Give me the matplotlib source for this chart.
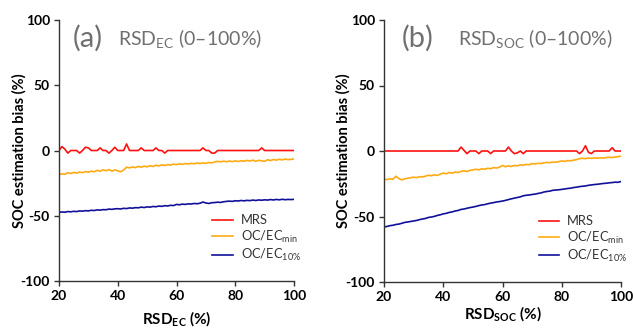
import numpy as np
import matplotlib
matplotlib.use('Agg')
import matplotlib.pyplot as plt

plt.rcParams['font.family'] = ['Lato', 'DejaVu Sans']
plt.rcParams['mathtext.fontset'] = 'custom'
plt.rcParams['mathtext.rm'] = 'Lato'
plt.rcParams['mathtext.bf'] = 'Lato:bold'
plt.rcParams['axes.unicode_minus'] = False

x = np.arange(20, 101)

# panel (a): RSD_EC
mrs_a = [0, 3, 1, -2, 0, 0, 0, -2, 0, 2.5,
         2, 0, 0, 0, 2, 0, 0, -2, 0, 2.5,
         0, 0, 0, 5, 0, 0, 0, 0, 2, 0,
         0, 0, 0, 2, 0, 0, -2, 0, 0, 0,
         0, 0, 0, 0, 0, 0, 0, 0, 0, 2,
         0, 0, -2, -2, 0, 0, 0, 0, 0, 0,
         0, 0, 0, 0, 0, 0, 0, 0, 0, 2,
         0, 0, 0, 0, 0, 0, 0, 0, 0, 0,
         0]
ocmin_a = [-18.5, -17.8, -18.2, -17.0, -17.6, -16.8, -17.3, -16.5, -17.0, -16.2,
           -16.6, -15.8, -16.3, -15.2, -15.9, -14.8, -15.5, -14.6, -15.8, -14.9,
           -15.6, -16.3, -15.0, -12.8, -13.3, -12.6, -13.1, -12.2, -12.8, -12.0,
           -12.5, -11.7, -12.2, -11.3, -11.8, -11.0, -11.5, -10.8, -11.2, -10.4,
           -10.8, -10.2, -10.6, -10.0, -10.3, -9.8, -10.2, -9.6, -10.0, -9.5,
           -9.8, -9.2, -9.5, -8.7, -8.3, -8.7, -8.2, -8.6, -8.1, -8.5,
           -8.0, -8.4, -7.9, -8.2, -7.6, -8.0, -7.4, -8.3, -7.5, -7.9,
           -8.3, -7.1, -7.7, -6.9, -7.4, -6.7, -7.2, -6.5, -7.0, -6.8,
           -6.5]
oc10_a = [-47.4, -47.1, -47.3, -46.8, -47.0, -46.6, -46.8, -46.3, -46.5, -46.1,
          -46.3, -45.8, -46.0, -45.5, -45.7, -45.3, -45.4, -44.9, -45.1, -44.7,
          -44.6, -44.8, -44.3, -44.5, -44.0, -44.2, -43.8, -43.9, -43.4, -43.7,
          -43.2, -43.4, -42.9, -43.1, -42.6, -42.8, -42.3, -42.5, -42.0, -42.2,
          -41.3, -41.6, -41.1, -41.3, -40.9, -41.0, -40.6, -40.8, -40.4, -39.5,
          -40.2, -40.6, -40.0, -39.9, -39.6, -39.8, -39.3, -39.0, -38.8, -39.0,
          -38.5, -38.7, -38.3, -38.6, -38.2, -38.4, -38.0, -38.3, -37.9, -38.1,
          -37.8, -38.0, -37.6, -37.9, -37.5, -37.8, -37.4, -37.7, -37.5, -37.6,
          -37.4]

# panel (b): RSD_SOC
mrs_b = [0, 0, 0, 0, 0, 0, 0, 0, 0, 0,
         0, 0, 0, 0, 0, 0, 0, 0, 0, 0,
         0, 0, 0, 0, 0, 0, 3, 0.5, -2, 0,
         0, 0, -2, 0, 0, 0, -2, 0, 0, 0,
         0, 0, 3, 0, -2, -1.5, 0, -2, 0, 0,
         0, 0, 0, 0, 0, 0, 0, 0, 0, 0,
         0, 0, 0, 0, 0, 0, -2, 0, 4, -1,
         -2, 0, 0, 0, 0, 0, 0, 2.5, 0, 0,
         0]
ocmin_b = [-21.5, -21.8, -21.2, -21.6, -19.3, -21.0, -22.0, -21.3, -20.8, -20.4,
           -20.0, -20.3, -19.6, -19.8, -19.2, -18.5, -18.9, -18.2, -18.6, -17.7,
           -16.8, -17.4, -16.4, -17.0, -16.0, -16.5, -15.6, -15.1, -15.7, -14.8,
           -14.5, -13.9, -14.4, -13.6, -13.9, -13.2, -13.5, -12.7, -13.0, -12.3,
           -11.0, -12.0, -11.4, -11.8, -11.0, -11.3, -10.6, -10.9, -10.2, -10.5,
           -9.6, -9.9, -9.4, -9.6, -9.0, -8.7, -8.9, -8.4, -8.6, -8.1,
           -7.6, -7.9, -7.3, -7.5, -7.0, -6.6, -5.8, -5.6, -5.8, -5.4,
           -5.6, -5.3, -5.5, -5.2, -5.4, -5.0, -4.8, -5.0, -4.6, -4.3,
           -4.0]
oc10_b = [-58.0, -57.6, -57.0, -56.7, -56.1, -55.8, -55.2, -54.5, -54.2, -53.8,
          -53.4, -53.0, -52.4, -51.9, -51.5, -50.7, -50.4, -49.9, -49.2, -48.7,
          -48.0, -47.6, -46.9, -46.5, -45.8, -45.4, -44.6, -44.3, -43.7, -43.2,
          -42.8, -42.3, -41.7, -41.2, -40.9, -40.3, -39.8, -39.4, -38.9, -38.6,
          -38.2, -37.7, -37.1, -36.5, -36.0, -35.5, -35.0, -34.2, -33.8, -33.6,
          -33.2, -32.9, -32.4, -32.0, -31.3, -30.9, -30.6, -30.0, -29.8, -29.6,
          -29.3, -29.0, -28.6, -28.4, -27.9, -27.6, -27.2, -26.9, -26.7, -26.2,
          -25.9, -25.6, -25.4, -25.1, -24.8, -24.6, -24.3, -24.1, -23.8, -23.9,
          -23.3]

red = '#FF1010'
orange = '#FFAA10'
navy = '#10109A'
grey = '#707070'

fig = plt.figure(figsize=(6.33, 3.30), dpi=100)
ax_a = fig.add_axes([59/633, 1-281/330, 235/633, 261/330])
ax_b = fig.add_axes([384/633, 1-282/330, 237/633, 262/330])

panels = [
    (ax_a, mrs_a, ocmin_a, oc10_a, '(a)', r'RSD$_{\mathregular{EC}}$ (0–100%)',
     r'RSD$_{\mathbf{EC}}$ (%)', 0.06, 0.251, -0.108),
    (ax_b, mrs_b, ocmin_b, oc10_b, '(b)', r'RSD$_{\mathregular{SOC}}$ (0–100%)',
     r'RSD$_{\mathbf{SOC}}$ (%)', 0.076, 0.312, -0.088),
]

for ax, mrs, ocmin, oc10, tag, title, xlab, tagx, tx, xly in panels:
    ax.plot(x, mrs, color=red, lw=1.2, label='MRS')
    ax.plot(x, ocmin, color=orange, lw=1.2, label=r'OC/EC$_{\mathregular{min}}$')
    ax.plot(x, oc10, color=navy, lw=1.2, label=r'OC/EC$_{\mathregular{10\%}}$')
    ax.set_xlim(20, 100)
    ax.set_ylim(-100, 100)
    ax.set_xticks([20, 40, 60, 80, 100])
    ax.set_yticks([-100, -50, 0, 50, 100])
    for s in ['top', 'right']:
        ax.spines[s].set_visible(False)
    for s in ['left', 'bottom']:
        ax.spines[s].set_linewidth(1.0)
        ax.spines[s].set_color('#333333')
    ax.tick_params(length=3.5, width=1.0, color='#333333', labelsize=10, pad=3)
    for lbl in ax.get_xticklabels() + ax.get_yticklabels():
        lbl.set_fontweight('bold')
    ax.set_ylabel('SOC estimation bias (%)', fontsize=10.5, fontweight='bold')
    ax.yaxis.set_label_coords(-0.14, 0.5)
    ax.set_xlabel(xlab, fontsize=11, fontweight='bold')
    ax.xaxis.set_label_coords(0.5, xly)
    ax.text(tagx, 0.93, tag, transform=ax.transAxes, fontsize=21,
            color=grey, va='center', ha='left')
    ax.text(tx, 0.925, title, transform=ax.transAxes, fontsize=14,
            color=grey, va='center', ha='left')
    leg = ax.legend(loc='upper left', bbox_to_anchor=(0.652, 0.255), frameon=False,
                    fontsize=9.3, handlelength=1.6, handletextpad=0.6,
                    labelspacing=0.18, borderpad=0, borderaxespad=0)
    for t in leg.get_texts():
        t.set_color('#333333')

fig.savefig('out.png', dpi=100)
